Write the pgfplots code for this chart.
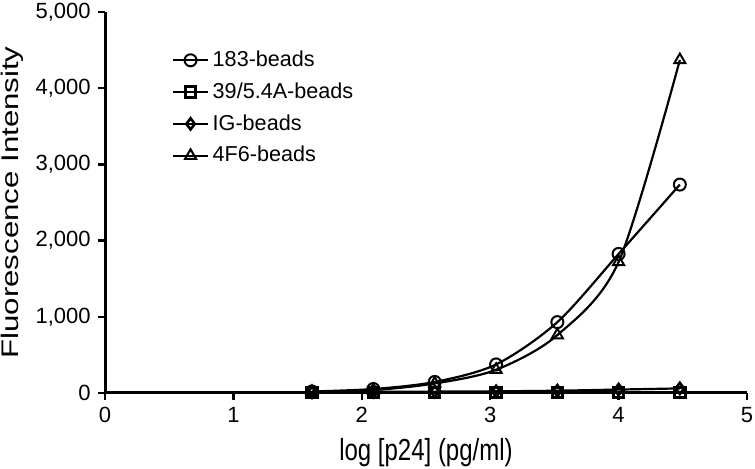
\documentclass[border=0pt]{standalone}
\usepackage{graphicx}
\usepackage{pgfplots}
\pgfplotsset{compat=1.18}
\usepackage{fontspec}
\setmainfont{Liberation Sans}
\begin{document}
\begin{tikzpicture}
\fontsize{10.5pt}{12pt}\selectfont
\begin{axis}[
  scale only axis, width=321pt, height=190.5pt,
  at={(0,0)}, anchor=south west,
  axis lines=left, axis line style={line width=1.5pt,-},
  xmin=0, xmax=5, ymin=0, ymax=5000,
  xtick={0,1,2,3,4,5}, ytick={0,1000,2000,3000,4000,5000},
  tick style={line width=1.2pt,black}, major tick length=3.5pt,
  tick align=outside,
  /pgf/number format/assume math mode=true,
  /pgf/number format/1000 sep={,},
  scaled y ticks=false,
  ticklabel style={font=\fontsize{11pt}{13pt}\selectfont},
  xlabel={\scalebox{1}[1.27]{log [p24] (pg/ml)}},
  ylabel={\scalebox{1.3}[1]{Fluorescence Intensity}},
  label style={font=\fontsize{12pt}{14pt}\selectfont},
  xlabel style={at={(axis description cs:0.5,0)}, anchor=center, yshift=-30pt},
  ylabel style={at={(axis description cs:-0.145,0.5)}, anchor=center},
  clip=false,
  legend style={draw=none, at={(0.095,0.92)}, anchor=north west, row sep=2.5pt,
    font=\fontsize{10.8pt}{12pt}\selectfont, fill=none},
  legend cell align=left,
  every axis plot/.append style={line width=1.1pt, black},
]
\addplot[smooth, mark=o, mark size=3pt, mark options={line width=1pt, fill=white}] coordinates {
(1.612,20) (2.090,52) (2.568,145) (3.046,375) (3.523,930) (4.0,1825) (4.477,2735)};
\addlegendentry{183-beads}
\addplot[smooth, mark=square, mark size=2.6pt, mark options={line width=1.5pt}] coordinates {
(1.612,5) (2.090,5) (2.568,6) (3.046,7) (3.523,8) (4.0,8) (4.477,10)};
\addlegendentry{39/5.4A-beads}
\addplot[smooth, mark=diamond, mark size=2.8pt, mark options={line width=1.3pt, fill=white}] coordinates {
(1.612,10) (2.090,15) (2.568,18) (3.046,22) (3.523,30) (4.0,45) (4.477,60)};
\addlegendentry{IG-beads}
\addplot[smooth, mark=triangle, mark size=3.2pt, mark options={line width=1pt, fill=white}] coordinates {
(1.612,15) (2.090,38) (2.568,125) (3.046,305) (3.523,760) (4.0,1720) (4.477,4370)};
\addlegendentry{4F6-beads}
\end{axis}
\pgfresetboundingbox
\path (-52.5pt,-38pt) rectangle (325pt,196.5pt);
\end{tikzpicture}
\end{document}
